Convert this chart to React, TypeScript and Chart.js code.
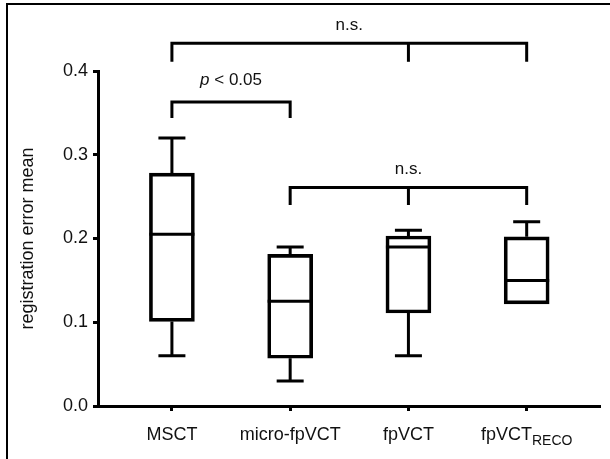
import React, { useEffect, useRef } from "react";
import { Chart, registerables } from "chart.js";

Chart.register(...registerables);

// ---- data ----
const categories = ["MSCT", "micro-fpVCT", "fpVCT", "fpVCT"];
const subscripts = ["", "", "", "RECO"];
const whiskerMin = [0.06, 0.03, 0.06, 0.122];
const q1 = [0.101, 0.057, 0.111, 0.122];
const median = [0.205, 0.125, 0.19, 0.15];
const q3 = [0.278, 0.181, 0.203, 0.202];
const whiskerMax = [0.32, 0.19, 0.21, 0.22];
const yTicks = [0, 0.1, 0.2, 0.3, 0.4];

// significance brackets
const bracketFrom = [0, 0, 1];
const bracketTo = [3, 1, 3];
const bracketMid = [[2], [], [2]];
const bracketLevel = [0.433, 0.363, 0.261];
const bracketDrop = [0.411, 0.344, 0.24];
const bracketLabels = ["n.s.", "p < 0.05", "n.s."];
const bracketLabelLevel = [0.455, 0.389, 0.283];

const yTitle = "registration error mean";

const FONT = '"Liberation Sans", Arial, Helvetica, sans-serif';
const INK = "#111";

export default function App() {
  const ref = useRef<HTMLCanvasElement>(null);

  useEffect(() => {
    const canvas = ref.current;
    if (!canvas) return;

    const overlay = {
      id: "boxOverlay",
      beforeDraw(chart: any) {
        const ctx = chart.ctx;
        ctx.save();
        ctx.fillStyle = "#fff";
        ctx.fillRect(0, 0, chart.width, chart.height);
        ctx.strokeStyle = "#000";
        ctx.lineWidth = 2;
        ctx.beginPath();
        ctx.moveTo(7, chart.height);
        ctx.lineTo(7, 4);
        ctx.lineTo(chart.width, 4);
        ctx.stroke();
        ctx.restore();
      },
      afterDatasetsDraw(chart: any) {
        const ctx = chart.ctx;
        const xs = chart.scales.x;
        const ys = chart.scales.y;
        const half = 22.5;
        const cap = 13.5;
        ctx.save();
        ctx.strokeStyle = "#000";
        ctx.lineWidth = 3;
        ctx.lineCap = "butt";
        ctx.lineJoin = "miter";
        for (let i = 0; i < categories.length; i++) {
          const x = xs.getPixelForValue(i);
          const ym = ys.getPixelForValue(median[i]);
          ctx.beginPath();
          ctx.moveTo(x - half, ym);
          ctx.lineTo(x + half, ym);
          ctx.stroke();
          if (whiskerMax[i] > q3[i]) {
            const yq = ys.getPixelForValue(q3[i]);
            const yw = ys.getPixelForValue(whiskerMax[i]);
            ctx.beginPath();
            ctx.moveTo(x, yq);
            ctx.lineTo(x, yw);
            ctx.moveTo(x - cap, yw);
            ctx.lineTo(x + cap, yw);
            ctx.stroke();
          }
          if (whiskerMin[i] < q1[i]) {
            const yq = ys.getPixelForValue(q1[i]);
            const yw = ys.getPixelForValue(whiskerMin[i]);
            ctx.beginPath();
            ctx.moveTo(x, yq);
            ctx.lineTo(x, yw);
            ctx.moveTo(x - cap, yw);
            ctx.lineTo(x + cap, yw);
            ctx.stroke();
          }
        }
        for (let b = 0; b < bracketFrom.length; b++) {
          const x0 = xs.getPixelForValue(bracketFrom[b]);
          const x1 = xs.getPixelForValue(bracketTo[b]);
          const yl = ys.getPixelForValue(bracketLevel[b]);
          const yd = ys.getPixelForValue(bracketDrop[b]);
          ctx.beginPath();
          ctx.moveTo(x0, yd);
          ctx.lineTo(x0, yl);
          ctx.lineTo(x1, yl);
          ctx.lineTo(x1, yd);
          ctx.stroke();
          for (const m of bracketMid[b]) {
            const xm = xs.getPixelForValue(m);
            ctx.beginPath();
            ctx.moveTo(xm, yl);
            ctx.lineTo(xm, yd);
            ctx.stroke();
          }
          const cx = (x0 + x1) / 2;
          const cy = ys.getPixelForValue(bracketLabelLevel[b]);
          ctx.fillStyle = INK;
          ctx.textBaseline = "middle";
          ctx.textAlign = "left";
          const lbl = bracketLabels[b];
          if (lbl.startsWith("p ")) {
            const italic = `italic 17px ${FONT}`;
            const normal = `17px ${FONT}`;
            ctx.font = italic;
            const wp = ctx.measureText("p").width;
            ctx.font = normal;
            const rest = lbl.slice(1);
            const wr = ctx.measureText(rest).width;
            const sx = cx - (wp + wr) / 2;
            ctx.font = italic;
            ctx.fillText("p", sx, cy);
            ctx.font = normal;
            ctx.fillText(rest, sx + wp, cy);
          } else {
            ctx.font = `17px ${FONT}`;
            ctx.textAlign = "center";
            ctx.fillText(lbl, cx, cy);
          }
        }
        ctx.fillStyle = INK;
        ctx.textBaseline = "alphabetic";
        ctx.textAlign = "left";
        const base = ys.getPixelForValue(0) + 34;
        for (let i = 0; i < categories.length; i++) {
          const x = xs.getPixelForValue(i);
          ctx.font = `18px ${FONT}`;
          const w1 = ctx.measureText(categories[i]).width;
          let w2 = 0;
          if (subscripts[i]) {
            ctx.font = `14px ${FONT}`;
            w2 = ctx.measureText(subscripts[i]).width;
          }
          const sx = x - (w1 + w2) / 2;
          ctx.font = `18px ${FONT}`;
          ctx.fillText(categories[i], sx, base);
          if (subscripts[i]) {
            ctx.font = `14px ${FONT}`;
            ctx.fillText(subscripts[i], sx + w1, base + 5);
          }
        }
        ctx.save();
        ctx.translate(28, (chart.chartArea.top + chart.chartArea.bottom) / 2);
        ctx.rotate(-Math.PI / 2);
        ctx.font = `18px ${FONT}`;
        ctx.textAlign = "center";
        ctx.textBaseline = "middle";
        ctx.fillText(yTitle, 0, 0);
        ctx.restore();
        ctx.restore();
      },
    };

    const chart = new Chart(canvas, {
      type: "bar",
      data: {
        datasets: [
          {
            data: categories.map((_, i) => ({ x: i, y: [q1[i], q3[i]] })) as any,
            backgroundColor: "rgba(255,255,255,0)",
            borderColor: "#000",
            borderWidth: 3,
            borderSkipped: false,
            barThickness: 45,
          },
        ],
      },
      options: {
        responsive: false,
        animation: false,
        devicePixelRatio: 1,
        layout: { padding: { top: 71, right: 10, left: 0, bottom: 0 } },
        plugins: { legend: { display: false }, tooltip: { enabled: false } },
        scales: {
          x: {
            type: "linear",
            min: -0.625,
            max: 3.62,
            offset: false,
            afterBuildTicks: (s: any) => {
              s.ticks = categories.map((_, i) => ({ value: i }));
            },
            afterFit: (s: any) => {
              s.height = 53;
            },
            ticks: { display: false },
            grid: {
              display: true,
              offset: false,
              drawOnChartArea: false,
              drawTicks: true,
              tickLength: 5,
              tickWidth: 3,
              tickColor: "#000",
              color: "#000",
            },
            border: { display: true, width: 3, color: "#000" },
          },
          y: {
            type: "linear",
            min: 0,
            max: 0.4,
            afterBuildTicks: (s: any) => {
              s.ticks = yTicks.map((v) => ({ value: v }));
            },
            afterFit: (s: any) => {
              s.width = 98;
            },
            ticks: {
              color: INK,
              font: { family: FONT, size: 18 },
              padding: 5,
              callback: (v: any) => Number(v).toFixed(1),
            },
            grid: {
              display: true,
              drawOnChartArea: false,
              drawTicks: true,
              tickLength: 5,
              tickWidth: 3,
              tickColor: "#000",
              color: "#000",
            },
            border: { display: true, width: 3, color: "#000" },
          },
        },
      },
      plugins: [overlay],
    });

    return () => chart.destroy();
  }, []);

  return (
    <div style={{ position: "absolute", left: 0, top: 0, width: 610, height: 459 }}>
      <canvas ref={ref} width={610} height={459} style={{ display: "block" }} />
    </div>
  );
}
